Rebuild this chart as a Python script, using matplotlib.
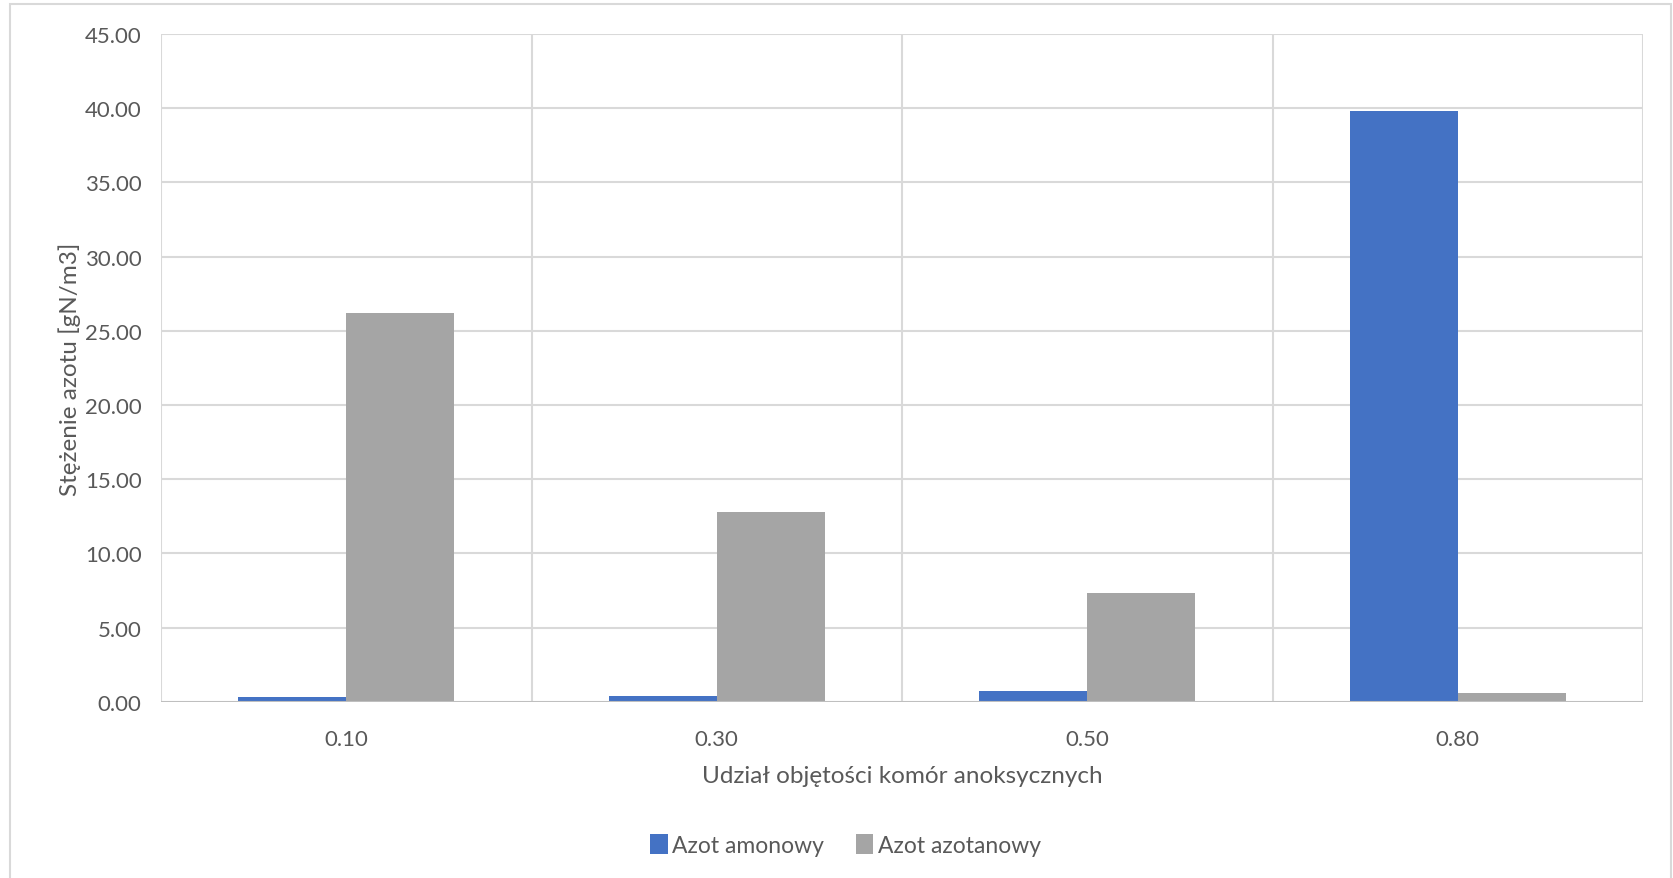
import matplotlib
matplotlib.use("Agg")
import matplotlib.pyplot as plt
import matplotlib.patches as mpatches
import numpy as np

# udział objętości komór anoksycznych i stężenia azotu [gN/m3]
categories = ["0.10", "0.30", "0.50", "0.80"]
azot_amonowy = [0.32, 0.40, 0.72, 39.80]
azot_azotanowy = [26.19, 12.80, 7.33, 0.57]
y_ticks = [0, 5, 10, 15, 20, 25, 30, 35, 40, 45]

BLUE = "#4472C4"
GRAY = "#A5A5A5"
GRID = "#D9D9D9"
TEXT = "#595959"

plt.rcParams["font.family"] = ["Lato", "DejaVu Sans"]

fig = plt.figure(figsize=(16.73, 8.79), dpi=100)
ax = fig.add_axes([161 / 1673, 1 - 702.7 / 879, (1643 - 161) / 1673, (702.7 - 35) / 879])

x = np.arange(len(categories))
width = 0.292
ax.bar(x - width / 2, azot_amonowy, width, color=BLUE, label="Azot amonowy", zorder=3)
ax.bar(x + width / 2, azot_azotanowy, width, color=GRAY, label="Azot azotanowy", zorder=3)

ax.set_xlim(-0.5, len(categories) - 0.5)
ax.set_ylim(0, 45)
ax.set_yticks(y_ticks)
ax.set_yticklabels([f"{v:.2f}" for v in y_ticks])
ax.set_xticks(x)
ax.set_xticklabels(categories)

# poziome linie siatki i pionowe granice kategorii
for v in y_ticks[1:]:
    ax.axhline(v, color=GRID, lw=1.5, zorder=1)
for b in np.arange(-0.5, len(categories), 1.0):
    ax.axvline(b, color=GRID, lw=1.5, zorder=1)
ax.axhline(0, color="#BFBFBF", lw=1.5, zorder=4)

for s in ax.spines.values():
    s.set_visible(False)
ax.tick_params(length=0, labelsize=16, colors=TEXT)
ax.tick_params(axis="y", pad=14)
ax.tick_params(axis="x", pad=20)

ax.set_xlabel("Udział objętości komór anoksycznych", fontsize=17.5, color=TEXT, labelpad=11)
ax.set_ylabel("Stężenie azotu [gN/m3]", fontsize=17.5, color=TEXT, labelpad=3)

ax.legend(loc="center", bbox_to_anchor=(0.462, -0.214), ncol=2, frameon=False,
          fontsize=16.5, labelcolor=TEXT, handlelength=0.75, handleheight=1.0,
          handletextpad=0.2, columnspacing=1.4)

# ramka wykresu
fig.patches.append(mpatches.Rectangle((10 / 1673, -0.01), 1661 / 1673, 1 - 5 / 879 + 0.01,
                                      transform=fig.transFigure, fill=False,
                                      edgecolor=GRID, lw=1.5))

fig.savefig("out.png", dpi=100, facecolor="white")
